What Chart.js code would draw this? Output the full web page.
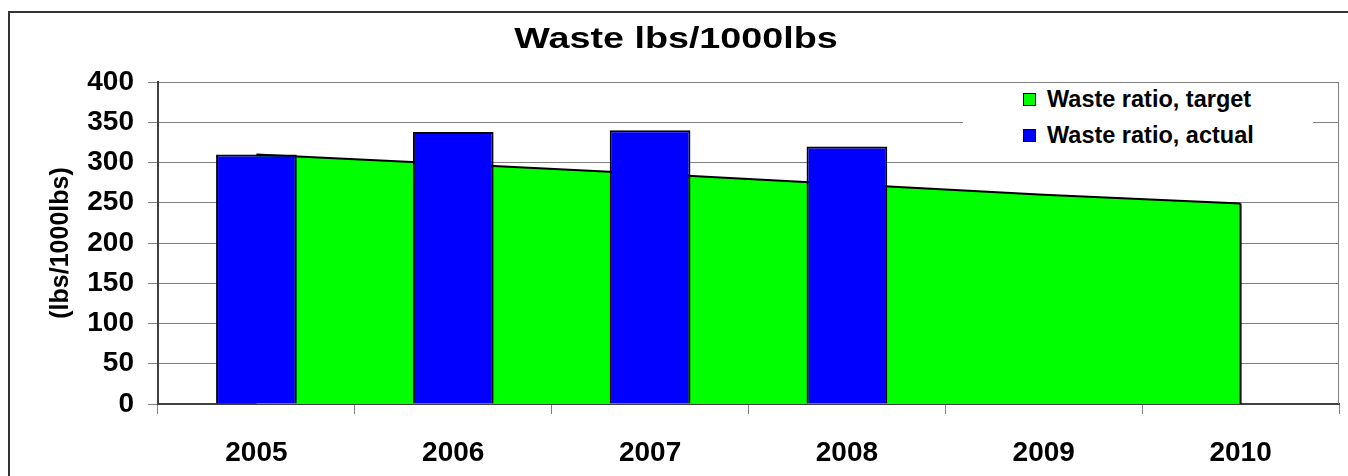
<!DOCTYPE html>
<html lang="en">
<head>
  <meta charset="UTF-8" />
  <title>Waste lbs/1000lbs</title>
  <script src="https://cdn.jsdelivr.net/npm/chart.js"></script>
  <style>
    body {
      margin: 0;
      background: #fff;
      font-family: "Liberation Sans", Arial, sans-serif;
    }
    #wrap {
      position: relative;
      width: 1348px;
      height: 476px;
      overflow: hidden;
    }
    #frame {
      position: absolute;
      left: 8px;
      top: 11px;
      width: 1400px;
      height: 520px;
      border: 2px solid #333;
      pointer-events: none;
    }
    #title {
      position: absolute;
      left: 0;
      top: 24px;
      width: 1352px;
      text-align: center;
      font-size: 29px;
      line-height: 29px;
      font-weight: bold;
      transform: scaleX(1.3);
    }
    #legend {
      position: absolute;
      left: 963px;
      top: 83px;
      width: 350px;
      height: 78px;
      background: #fff;
    }
    #legend ul {
      list-style: none;
      margin: -2px 0 0 0;
      padding: 0 0 0 60px;
    }
    #legend li {
      display: flex;
      align-items: center;
      height: 36px;
      line-height: 36px;
      font-size: 23.5px;
      font-weight: bold;
    }
    #legend span.box {
      width: 11px;
      height: 11px;
      border: 1px solid #000;
      margin-right: 11px;
    }
    canvas {
      position: absolute;
      left: 0;
      top: 0;
    }
  </style>
</head>
<body>
  <div id="wrap">
    <canvas id="wasteChart" width="1348" height="476"></canvas>
    <div id="title"></div>
    <div id="legend"></div>
    <div id="frame"></div>
  </div>

  <script>
    const chartTitle = "Waste lbs/1000lbs";
    const yAxisTitle = "(lbs/1000lbs)";
    const years = ["2005", "2006", "2007", "2008", "2009", "2010"];
    const targetRatio = [310, 298, 286, 273, 260, 249];
    const actualRatio = [310, 338, 340, 320, null, null];
    const yTicks = [0, 50, 100, 150, 200, 250, 300, 350, 400];

    const fontFamily = "'Liberation Sans', Arial, sans-serif";
    Chart.defaults.font.family = fontFamily;
    Chart.defaults.color = "#000";

    // plot area border on the right side, like the Excel original
    const plotBorder = {
      id: "plotBorder",
      beforeDatasetsDraw(chart) {
        const { ctx, chartArea } = chart;
        ctx.save();
        ctx.strokeStyle = "#808080";
        ctx.lineWidth = 1;
        ctx.beginPath();
        ctx.moveTo(chartArea.right - 0.5, chartArea.top);
        ctx.lineTo(chartArea.right - 0.5, chartArea.bottom);
        ctx.stroke();
        ctx.restore();
      }
    };

    // closing edge of the target area at the last category
    const areaEdge = {
      id: "areaEdge",
      afterDatasetDraw(chart, args) {
        if (chart.data.datasets[args.index].type !== "line") return;
        const pts = args.meta.data;
        const last = pts[pts.length - 1];
        const y0 = chart.scales.y.getPixelForValue(0);
        const ctx = chart.ctx;
        ctx.save();
        ctx.strokeStyle = "#000";
        ctx.lineWidth = 2;
        ctx.beginPath();
        ctx.moveTo(last.x, last.y);
        ctx.lineTo(last.x, y0);
        ctx.stroke();
        ctx.restore();
      }
    };

    const ctx = document.getElementById("wasteChart").getContext("2d");
    const chart = new Chart(ctx, {
      type: "bar",
      data: {
        labels: years,
        datasets: [
          {
            type: "line",
            label: "Waste ratio, target",
            data: targetRatio,
            backgroundColor: "#00FF00",
            borderColor: "#000",
            borderWidth: 2,
            pointRadius: 0,
            fill: "origin",
            tension: 0,
            order: 2
          },
          {
            type: "bar",
            label: "Waste ratio, actual",
            data: actualRatio,
            backgroundColor: "#0000FF",
            borderColor: "#000",
            borderWidth: 2,
            barPercentage: 0.41,
            categoryPercentage: 1,
            order: 1
          }
        ]
      },
      options: {
        responsive: false,
        animation: false,
        layout: {
          padding: { top: 82, right: 9, bottom: 0, left: 0 }
        },
        plugins: {
          legend: { display: false },
          title: { display: false },
          tooltip: { enabled: false }
        },
        scales: {
          x: {
            offset: true,
            grid: {
              offset: true,
              drawOnChartArea: false,
              tickLength: 10,
              color: "#808080"
            },
            border: { color: "#404040", width: 2 },
            ticks: {
              padding: 22,
              font: { size: 28, weight: "bold" }
            },
            afterFit: scale => { scale.height = 72; }
          },
          y: {
            min: 0,
            max: 400,
            afterBuildTicks: scale => {
              scale.ticks = yTicks.map(v => ({ value: v }));
            },
            grid: {
              color: "#808080",
              tickLength: 10
            },
            border: { color: "#404040", width: 2 },
            ticks: {
              padding: 14,
              font: { size: 28, weight: "bold" }
            },
            title: {
              display: true,
              text: yAxisTitle,
              padding: { top: 46, bottom: 0 },
              font: { size: 25, weight: "bold", lineHeight: 1.2 }
            },
            afterFit: scale => { scale.width = 158; }
          }
        }
      },
      plugins: [plotBorder, areaEdge]
    });

    document.getElementById("title").textContent = chartTitle;

    // legend built from the datasets, placed inside the plot like the original
    const list = document.createElement("ul");
    chart.data.datasets.forEach(ds => {
      const li = document.createElement("li");
      const box = document.createElement("span");
      box.className = "box";
      box.style.background = ds.backgroundColor;
      li.appendChild(box);
      li.appendChild(document.createTextNode(ds.label));
      list.appendChild(li);
    });
    document.getElementById("legend").appendChild(list);
  </script>
</body>
</html>
